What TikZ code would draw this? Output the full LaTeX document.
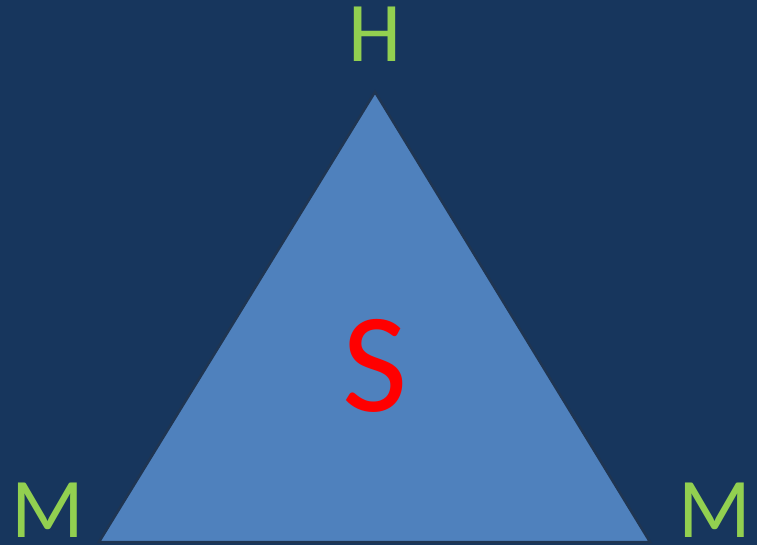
\documentclass[tikz,border=0pt]{standalone}
\usepackage{fontspec}
\setmainfont{Carlito}
\definecolor{bgblue}{HTML}{17365D}
\definecolor{triblue}{HTML}{4F81BD}
\definecolor{edgeblue}{HTML}{1F3552}
\definecolor{lettergreen}{HTML}{92D050}
\tikzset{
  corner/.style={anchor=base, text=lettergreen, inner sep=0pt, font=\fontsize{85}{85}\selectfont},
  centre/.style={anchor=base, text=red, inner sep=0pt, font=\fontsize{142}{142}\selectfont}
}
\begin{document}
\begin{tikzpicture}[x=1pt, y=-1pt]
  % background
  \fill[bgblue] (0,0) rectangle (757,545);
  \useasboundingbox (0,0) rectangle (757,545);

  % triangle corners
  \coordinate (top) at (375,92);
  \coordinate (bl) at (99,542);
  \coordinate (br) at (650,542);
  \draw[fill=triblue, draw=edgeblue, line width=2.5pt, line join=miter] (top) -- (br) -- (bl) -- cycle;

  % letters
  \node[corner] (h) at (375,62) {H};
  \node[corner] (ml) at (47.5,537) {M};
  \node[corner] (mr) at (715,537) {M};
  \node[centre] (s) at (375,411) {S};
\end{tikzpicture}
\end{document}
